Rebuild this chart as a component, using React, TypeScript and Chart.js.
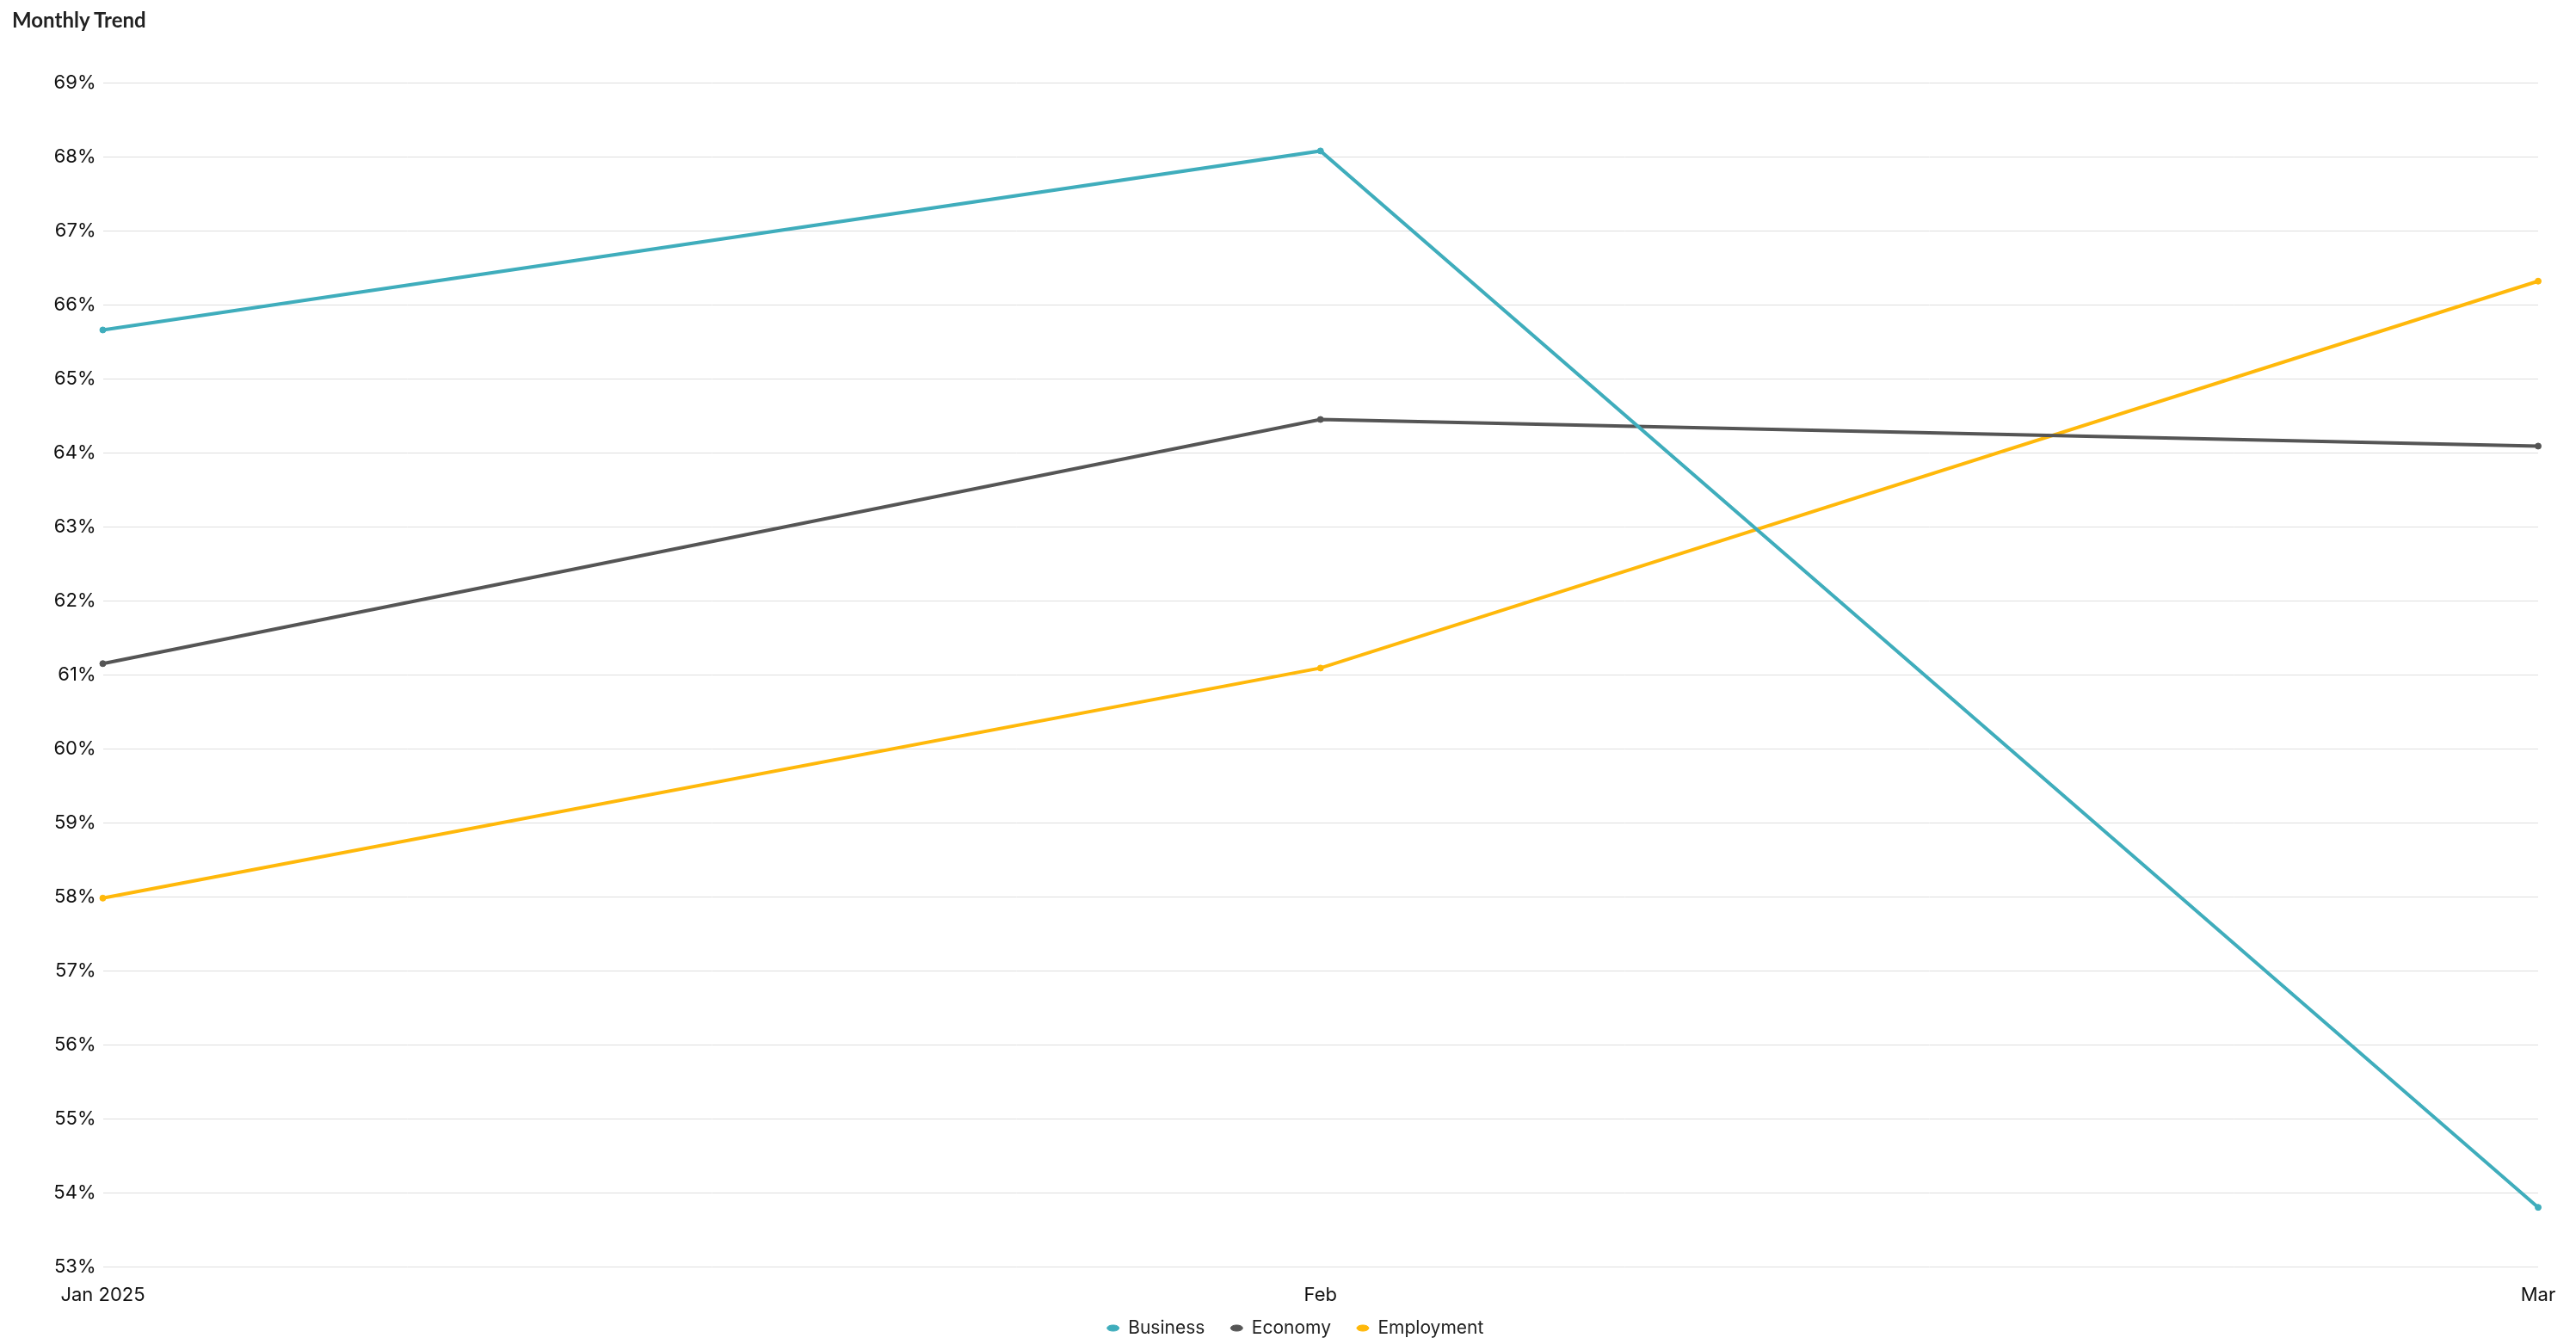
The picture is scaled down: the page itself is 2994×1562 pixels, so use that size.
import React, { useEffect, useRef } from "react";
import { Chart, registerables } from "chart.js";

Chart.register(...registerables);

const months = ["Jan 2025", "Feb", "Mar"];
const businessValues = [65.66, 68.08, 53.8];
const economyValues = [61.15, 64.45, 64.09];
const employmentValues = [57.98, 61.09, 66.32];
const seriesNames = ["Business", "Economy", "Employment"];
const seriesColors = ["#3FADBC", "#555555", "#FFB80A"];
const yMin = 53;
const yMax = 69;
const chartTitle = "Monthly Trend";

const unclipXLabels = {
  id: "unclipXLabels",
  afterLayout(chart: any) {
    const x = chart.scales.x;
    if (x) x.bottom = x.top + 70;
  },
};

export default function App() {
  const ref = useRef<HTMLCanvasElement | null>(null);

  useEffect(() => {
    if (!ref.current) return;
    const seriesValues = [businessValues, economyValues, employmentValues];
    const chart = new Chart(ref.current, {
      type: "line",
      data: {
        labels: months,
        datasets: seriesNames.map((name, i) => ({
          label: name,
          data: seriesValues[i],
          borderColor: seriesColors[i],
          backgroundColor: seriesColors[i],
          borderWidth: 4,
          pointRadius: 3.5,
          pointBorderWidth: 1,
          pointStyle: "circle",
          tension: 0,
          fill: false,
        })),
      },
      options: {
        animation: false,
        responsive: false,
        maintainAspectRatio: false,
        layout: { padding: { top: 96.3, left: 61, right: 44, bottom: -2 } },
        plugins: {
          title: { display: false },
          legend: {
            display: true,
            position: "bottom",
            labels: {
              usePointStyle: true,
              pointStyle: "circle",
              pointStyleWidth: 14,
              boxHeight: 5,
              padding: 30,
              color: "#222222",
              font: { family: "Inter", size: 21 },
            },
          },
          tooltip: { enabled: false },
        },
        scales: {
          x: {
            grid: { display: false, drawTicks: false },
            border: { display: false },
            ticks: {
              color: "#111111",
              padding: 20,
              maxRotation: 0,
              font: { family: "Inter", size: 22 },
            },
            afterFit: (s: any) => {
              s.height = 31;
              s.paddingLeft = 0;
              s.paddingRight = 0;
            },
          },
          y: {
            min: yMin,
            max: yMax,
            grid: { color: "#dedede", lineWidth: 1, drawTicks: false },
            border: { display: false },
            ticks: {
              stepSize: 1,
              padding: 8,
              color: "#111111",
              font: { family: "Inter", size: 22 },
              callback: (v: any) => `${v}%`,
            },
            afterFit: (s: any) => {
              s.width = 58.5;
              s.paddingTop = 0;
              s.paddingBottom = 0;
            },
          },
        },
      },
      plugins: [unclipXLabels],
    });
    return () => chart.destroy();
  }, []);

  return (
    <div style={{ position: "fixed", left: 0, top: 0, width: 2994, height: 1562, background: "#fff" }}>
      <canvas ref={ref} width={2994} height={1562} style={{ width: 2994, height: 1562, display: "block" }} />
      <div
        style={{
          position: "absolute",
          left: 14,
          top: 8,
          fontFamily: "Lato, sans-serif",
          fontWeight: 700,
          fontSize: 24,
          lineHeight: "30px",
          color: "#222222",
          whiteSpace: "nowrap",
        }}
      >
        {chartTitle}
      </div>
    </div>
  );
}
